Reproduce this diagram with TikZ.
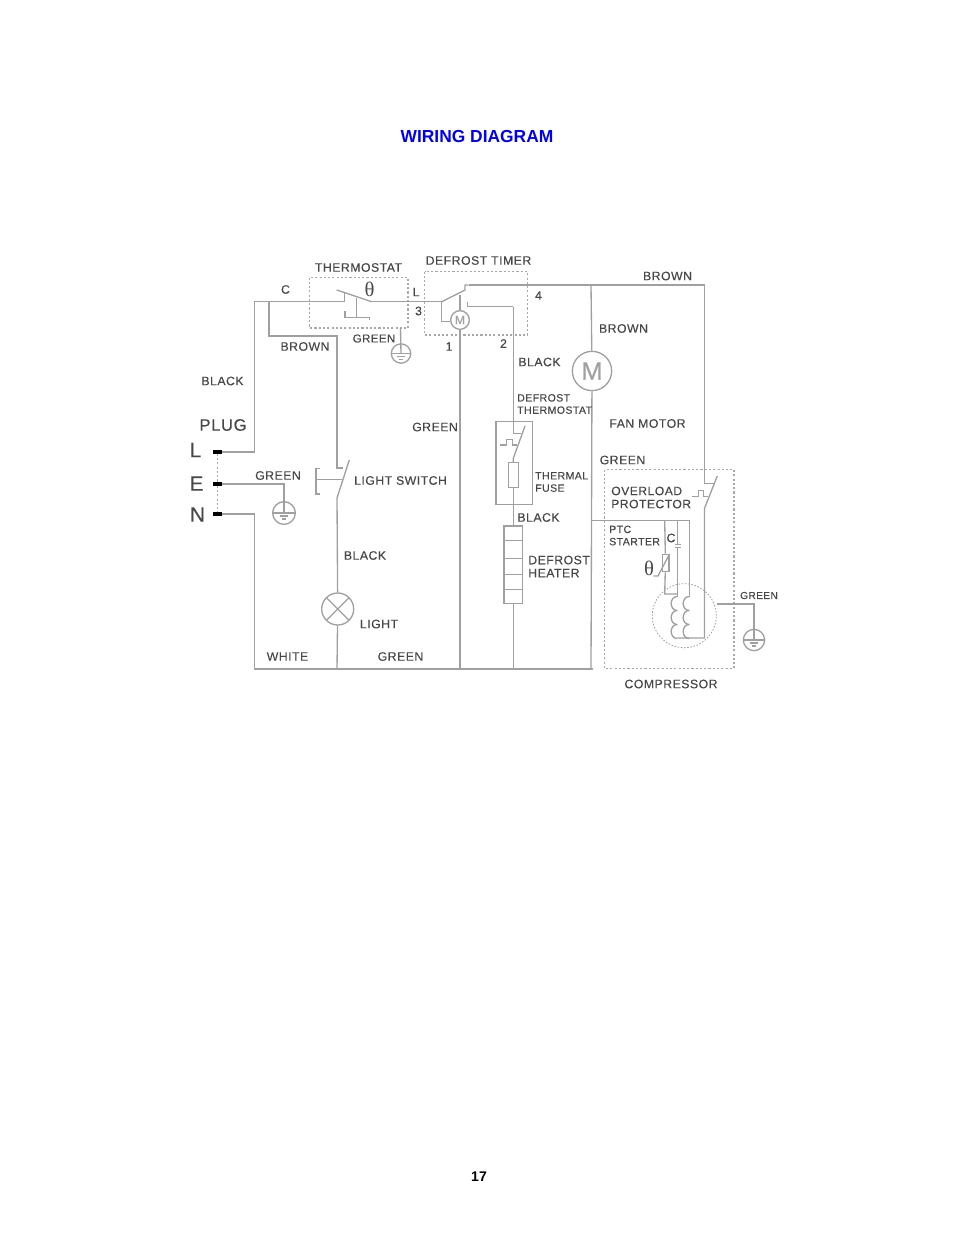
\documentclass[tikz,border=0pt]{standalone}
\usepackage{fontspec}
\setmainfont{Liberation Sans}[LetterSpace=4,FakeBold=0.25]
\newfontfamily\titlefont{Liberation Sans}
\newfontfamily\thetafont{Liberation Serif}
\definecolor{wirecol}{HTML}{A0A0A0}
\definecolor{dotcol}{HTML}{A8A8A8}
\definecolor{txtcol}{HTML}{474747}
\begin{document}
\begin{tikzpicture}[x=.75pt,y=-.75pt]
	\tikzset{wire/.style = {draw=wirecol,line width=1pt,line join=miter}}
	\tikzset{dashbox/.style = {draw=dotcol,line width=.9pt,dash pattern=on 1.6pt off 1.6pt}}
	\tikzset{lbl/.style = {inner sep=0,text=txtcol,font=\fontsize{9.2}{9.8}\selectfont}}
	\tikzset{lblsmall/.style = {lbl,align=left,anchor=west,font=\fontsize{7.9}{9.2}\selectfont}}
	\tikzset{lblbig/.style = {lbl,font=\fontsize{15.5}{16}\selectfont}}
	\tikzset{thetalbl/.style = {lbl,font=\thetafont\fontsize{15.5}{16}\selectfont}}
	\tikzset{terminal/.style = {fill=black,inner sep=0,minimum width=6.8pt,minimum height=2.3pt}}
	\tikzset{motor/.style = {circle,wire,inner sep=0,text=wirecol}}
	\tikzset{box/.style = {rectangle,wire,inner sep=0}}
	\tikzset{earth/.style = {circle,wire,inner sep=0,minimum size=#1,
		path picture={
			\draw[wire] (path picture bounding box.west) -- (path picture bounding box.east);
			\draw[wire] ([yshift=-2.2pt]path picture bounding box.center) ++(-3.2pt,0) -- ++(6.4pt,0);
			\draw[wire] ([yshift=-4.4pt]path picture bounding box.center) ++(-1.8pt,0) -- ++(3.6pt,0);
		}}}
	\useasboundingbox (0,0) rectangle (954,1235);
	% title and page number
	\node[inner sep=0,text={rgb,255:red,0;green,0;blue,245},font=\titlefont\bfseries\fontsize{13.05}{14}\selectfont] (title) at (477,137) {WIRING DIAGRAM};
	\node[inner sep=0,font=\titlefont\bfseries\fontsize{10.5}{11}\selectfont] (pagenum) at (479,1177) {17};
	% plug
	\node[terminal] (plugL) at (217.5,452) {};
	\node[terminal] (plugE) at (217.5,484) {};
	\node[terminal] (plugN) at (217.5,514) {};
	\draw[dashbox] (plugL) -- (plugE) -- (plugN);
	% dotted boxes
	\draw[dashbox] (309.5,277.5) rectangle (408,328);
	\draw[dashbox] (424.5,271.5) rectangle (527.5,335);
	\draw[dashbox] (604.5,469.5) rectangle (734,668.5);
	% corners of the wiring
	\coordinate (lineTL) at (254.7,301.7);
	\coordinate (lineL) at (254.7,452);
	\coordinate (neuN) at (254.7,514);
	\coordinate (neuBL) at (254.7,669);
	\coordinate (brownT) at (269,301.7);
	\coordinate (brownB) at (269,336);
	\coordinate (brownR) at (337,336);
	\coordinate (swA) at (337,468);
	\coordinate (swB) at (337,498);
	\coordinate (lightB) at (337,669);
	\coordinate (thA) at (344.3,301.7);
	\coordinate (thB) at (371.7,301.7);
	\coordinate (timerA) at (441.7,301.7);
	\coordinate (timerM) at (441.7,321.7);
	\coordinate (topL) at (465,285);
	\coordinate (fanT) at (591,285);
	\coordinate (topR) at (704.5,285);
	\coordinate (motB) at (460,669);
	\coordinate (cont2) at (467.3,301.5);
	\coordinate (cont2b) at (467.3,306.5);
	\coordinate (cornB) at (513.3,306.5);
	\coordinate (heatB) at (513.3,669);
	\coordinate (fanB) at (591,669);
	\coordinate (botR) at (593,669);
	\coordinate (ptcL) at (591,520.7);
	\coordinate (ptcR) at (689.3,520.7);
	% thermostat
	\draw[wire] (thA) -- ++(0,-9);
	\draw[wire] (336.7,290) -- (thB);
	\draw[wire] (356.7,298) -- (356.7,317.3);
	\draw[wire] (345,310.7) -- (345,317.3) -- (369.3,317.3) -- (369.3,320);
	\node[earth=14.5pt] (gndTh) at (401,353.5) {};
	\coordinate (thBot) at (400.5,328);
	\draw[wire] (thBot) -- (gndTh.center);
	% defrost timer
	\node[motor,minimum size=14pt,font=\fontsize{9}{9}\selectfont] (motTimer) at (460,320) {M};
	\draw[wire] (timerA) -- (465,290) -- (topL) -- (468.5,285);
	\draw[wire] (lineL) -- (lineTL) -- (thA);
	\draw[wire] (thB) -- (timerA) -- (timerM) -- (motTimer.west |- timerM);
	\draw[wire] (460,295) -- (motTimer);
	\draw[wire] (motTimer) -- (motB);
	\draw[wire] (cont2) -- (cont2b) -- (cornB);
	\draw[wire] (468.5,285) -- (topR);
	% fan motor
	\node[motor,minimum size=29.5pt,font=\fontsize{19}{19}\selectfont,fill=white] (fan) at (592,371) {M};
	\draw[wire] (fanT) -- (fan);
	\draw[wire] (fan) -- (fanB);
	% mains and neutral
	\draw[wire] (plugL) -- (lineL);
	\draw[wire] (plugN) -- (neuN) -- (neuBL) -- (botR);
	\node[earth=17pt] (gndPlug) at (284,513) {};
	\draw[wire] (plugE) -- (284,484) -- (gndPlug.center);
	% light switch and lamp
	\draw[wire] (brownT) -- (brownB) -- (brownR) -- (swA) -- (343,468);
	\draw[wire] (349.3,460) -- (swB);
	\draw[wire] (316,479.3) -- (341.7,479.3);
	\draw[wire] (320,468.3) -- (316,468.3) -- (316,494) -- (320,494);
	\node[circle,wire,inner sep=0,minimum size=24pt,path picture={
		\draw[wire] (path picture bounding box.north west) -- (path picture bounding box.south east);
		\draw[wire] (path picture bounding box.north east) -- (path picture bounding box.south west);}] (lamp) at (337.7,609) {};
	\draw[wire] (swB) -- (lamp);
	\draw[wire] (lamp) -- (lightB);
	% defrost thermostat, fuse, heater
	\draw[box] (496,421.7) rectangle (532.7,504.3);
	\node[box,minimum width=7.7pt,minimum height=18.5pt] (fuse) at (513.3,475) {};
	\node[box,minimum width=14pt,minimum height=58pt] (heater) at (513.3,564.7) {};
	\foreach \yy in {540.7,558.7,574.3,589.3}
		\draw[wire] (heater.west |- 0,\yy) -- (heater.east |- 0,\yy);
	\draw[wire] (cornB) -- (513.3,433.3) -- (520.7,433.3);
	\draw[wire] (525,426) -- (513.3,458.3) -- (fuse);
	\draw[wire] (fuse) -- (heater);
	\draw[wire] (heater) -- (heatB);
	\draw[wire] (500,445) -- (506.7,445) -- (506.7,439.3) -- (512.7,439.3) -- (512.7,445) -- (517.3,445);
	% compressor
	\draw[wire] (topR) -- (704.5,483.3) -- (714,483.3);
	\draw[wire] (717.3,476) -- (704.5,508.3) -- (704.5,638) -- (677.3,638);
	\draw[wire] (691.7,496.7) -- (698.3,496.7) -- (698.3,490.7) -- (703.3,490.7) -- (703.3,496.7) -- (708.3,496.7);
	\draw[wire] (ptcL) -- (ptcR) -- (689.3,596.5);
	\node[box,minimum width=5pt,minimum height=13pt,fill=white] (ptc) at (665.5,563) {};
	\draw[wire] (664.7,520.7) -- (ptc);
	\draw[wire] (ptc) -- (664.7,594) -- (677.3,594);
	\draw[wire] (677.3,520.7) -- (677.3,544.3);
	\draw[wire] (674.5,544.3) -- (680.5,544.3);
	\draw[wire] (674.5,547.5) -- (680.5,547.5);
	\draw[wire] (677.3,547.5) -- (677.3,596.5);
	\draw[wire] (653.3,576) -- (658,576) -- (669.5,554);
	% motor windings
	\foreach \xx in {677.3,689.3} {
		\foreach \yy in {596.5,610.5,624.5}
			\draw[wire] (\xx,\yy) to[out=180,in=180,looseness=1.5] (\xx,\yy+14);
	}
	\node[circle,draw=wirecol,line width=.6pt,dash pattern=on 1.2pt off 1.2pt,inner sep=0,minimum size=48pt] (shell) at (684.3,615.7) {};
	\node[earth=16pt] (gndComp) at (754,640) {};
	\draw[wire] (shell.east |- 0,604) -- (754,604) -- (gndComp.center);
	% labels
	\node[lbl] (lblThermostat) at (358.5,267.5) {THERMOSTAT};
	\node[lbl] (lblTimer) at (478.5,260.5) {DEFROST TIMER};
	\node[lbl] (lblC) at (285.5,289.5) {C};
	\node[thetalbl] (lblThetaA) at (369.5,289.5) {θ};
	\node[lbl] (lblL) at (416,292) {L};
	\node[lbl] (lbl3) at (418.5,311) {3};
	\node[lbl] (lbl4) at (538.5,295.5) {4};
	\node[lbl] (lbl1) at (449,346.5) {1};
	\node[lbl] (lbl2) at (503.5,343.5) {2};
	\node[lbl] (lblBrownA) at (667.5,276) {BROWN};
	\node[lbl] (lblBrownB) at (623.5,328.5) {BROWN};
	\node[lbl] (lblBrownC) at (305,346.5) {BROWN};
	\node[lbl,font=\fontsize{8.6}{9}\selectfont] (lblGreenTh) at (374,338.5) {GREEN};
	\node[lbl] (lblBlackA) at (222.5,381) {BLACK};
	\node[lbl] (lblBlackB) at (539.5,362) {BLACK};
	\node[lblsmall] (lblDefTh) at (517,404) {DEFROST\\THERMOSTAT};
	\node[lbl] (lblGreenB) at (435,427) {GREEN};
	\node[lbl] (lblFan) at (647.5,423.5) {FAN MOTOR};
	\node[lbl,font=\fontsize{12.4}{13}\selectfont] (lblPlug) at (223,425) {PLUG};
	\node[lblbig] (lblPlugL) at (195.5,450) {L};
	\node[lblbig] (lblPlugE) at (196.5,483.5) {E};
	\node[lblbig] (lblPlugN) at (197.5,514.5) {N};
	\node[lbl] (lblGreenC) at (622.5,460) {GREEN};
	\node[lbl] (lblGreenE) at (278,475.5) {GREEN};
	\node[lbl] (lblLightSw) at (400.5,480.5) {LIGHT SWITCH};
	\node[lblsmall] (lblFuse) at (535,482) {THERMAL\\FUSE};
	\node[lbl,align=left,anchor=west,font=\fontsize{9.1}{9.8}\selectfont] (lblOverload) at (611,497.5) {OVERLOAD\\PROTECTOR};
	\node[lbl] (lblBlackC) at (538.5,517.5) {BLACK};
	\node[lblsmall] (lblPtc) at (609,535.5) {PTC\\STARTER};
	\node[lbl] (lblCapC) at (671,538) {C};
	\node[lbl,align=left,anchor=west] (lblHeater) at (528,566.5) {DEFROST\\HEATER};
	\node[thetalbl] (lblThetaB) at (649,568.5) {θ};
	\node[lbl] (lblBlackD) at (365,555.5) {BLACK};
	\node[lbl,font=\fontsize{7.6}{8}\selectfont] (lblGreenG) at (759,595.5) {GREEN};
	\node[lbl] (lblLight) at (379,624) {LIGHT};
	\node[lbl] (lblWhite) at (287.5,656.5) {WHITE};
	\node[lbl] (lblGreenD) at (400.5,656.5) {GREEN};
	\node[lbl] (lblComp) at (671,684) {COMPRESSOR};
\end{tikzpicture}
\end{document}
